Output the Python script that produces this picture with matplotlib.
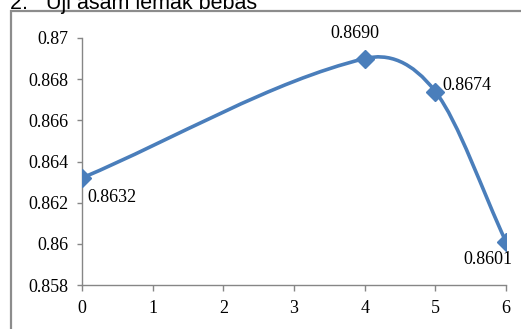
import matplotlib.pyplot as plt
from matplotlib.path import Path
from matplotlib.patches import PathPatch, Rectangle

# free fatty acid test results
hari = [0, 4, 5, 6]
nilai = [0.8632, 0.8690, 0.8674, 0.8601]
label_nilai = ['0.8632', '0.8690', '0.8674', '0.8601']
y_ticks = [0.858, 0.86, 0.862, 0.864, 0.866, 0.868, 0.87]
y_labels = ['0.858', '0.86', '0.862', '0.864', '0.866', '0.868', '0.87']
x_ticks = [0, 1, 2, 3, 4, 5, 6]

BLUE = '#4a7ebb'
GRID = '#868686'
SERIF = 'Liberation Serif'


def smooth_path(xs, ys):
    """Cubic Bezier path through the points (Hermite segments, slopes from neighbours)."""
    n = len(xs)
    slopes = []
    for i in range(n):
        a = max(i - 1, 0)
        b = min(i + 1, n - 1)
        slopes.append((ys[b] - ys[a]) / (xs[b] - xs[a]))
    verts = [(xs[0], ys[0])]
    codes = [Path.MOVETO]
    for i in range(n - 1):
        h = (xs[i + 1] - xs[i]) / 3
        verts += [(xs[i] + h, ys[i] + slopes[i] * h),
                  (xs[i + 1] - h, ys[i + 1] - slopes[i + 1] * h),
                  (xs[i + 1], ys[i + 1])]
        codes += [Path.CURVE4] * 3
    return Path(verts, codes)


fig = plt.figure(figsize=(5.21, 3.29), dpi=100)

# heading above the chart (partly cut off at the top edge)
fig.text(10 / 521, 1 - 9 / 329, '2.   Uji asam lemak bebas', family='Liberation Sans',
         fontsize=15.5, va='baseline', ha='left')

# chart frame
fig.patches.append(Rectangle((11 / 521, -0.1), 1.2, 1.1 - 11 / 329, transform=fig.transFigure,
                             fill=False, edgecolor='#8c8c8c', linewidth=1.6))

ax = fig.add_axes([82 / 521, 44 / 329, 424 / 521, 247 / 329])

ax.add_patch(PathPatch(smooth_path(hari, nilai), facecolor='none', edgecolor=BLUE,
                       linewidth=2.6, capstyle='round', zorder=3))
ax.plot(hari, nilai, linestyle='none', marker='D', markersize=9, color=BLUE, zorder=4)

offsets = [((4, -14), 'left', 'center'),
           ((-7, 18), 'center', 'center'),
           ((5, 4), 'left', 'center'),
           ((5, -13), 'right', 'center')]
for x, y, txt, (off, ha, va) in zip(hari, nilai, label_nilai, offsets):
    ax.annotate(txt, (x, y), xytext=off, textcoords='offset points', ha=ha, va=va,
                family=SERIF, fontsize=13, zorder=5)

ax.set_xlim(0, 6)
ax.set_ylim(0.858, 0.87)
ax.set_xticks(x_ticks)
ax.set_xticklabels([str(v) for v in x_ticks], family=SERIF, fontsize=13)
ax.set_yticks(y_ticks)
ax.set_yticklabels(y_labels, family=SERIF, fontsize=13)

for side in ['top', 'right']:
    ax.spines[side].set_visible(False)
for side in ['left', 'bottom']:
    ax.spines[side].set_color(GRID)
    ax.spines[side].set_linewidth(1.0)
ax.tick_params(axis='x', length=4.5, width=1.0, color=GRID, pad=6)
ax.tick_params(axis='y', length=3.6, width=1.0, color=GRID, pad=6)
for spine in ax.spines.values():
    spine.set_zorder(1)

fig.savefig('out.png', dpi=100)
plt.close()
